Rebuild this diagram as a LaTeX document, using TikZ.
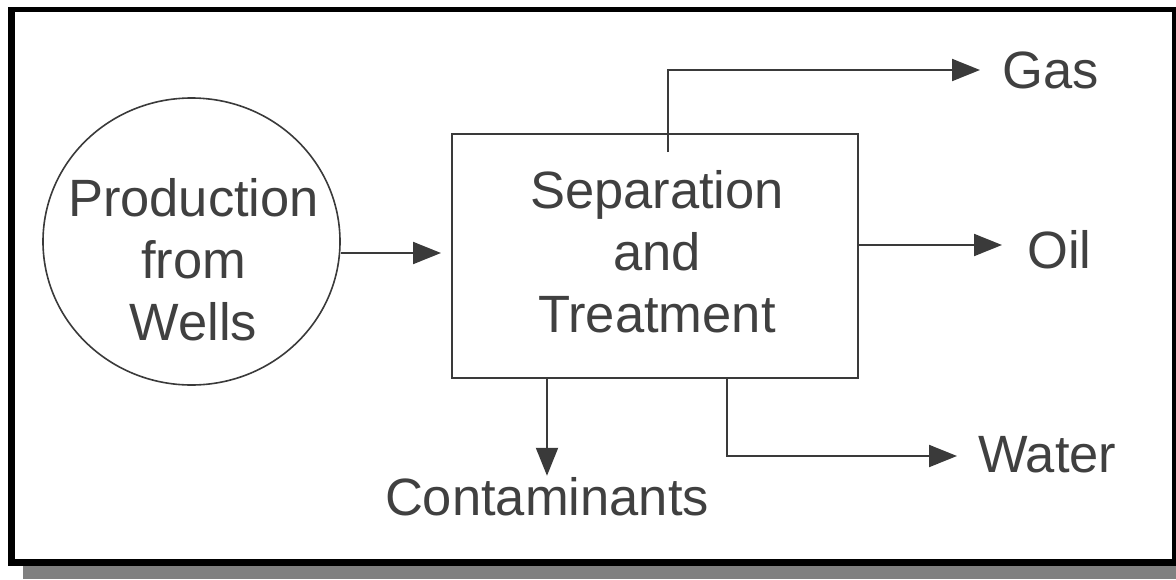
\documentclass[tikz,border=0pt]{standalone}
\usepackage{fontspec}
\setmainfont{Liberation Sans}
\usetikzlibrary{arrows.meta,shapes.geometric}
\definecolor{ink}{HTML}{3A3A3A}
\definecolor{txt}{HTML}{404040}
\definecolor{shadowgray}{HTML}{808080}
\begin{document}
\begin{tikzpicture}[x=1pt,y=-1pt,
  lbl/.style={inner sep=0pt,text=txt,font=\fontsize{52.5}{62}\selectfont},
  flow/.style={draw=ink,line width=2pt,-{Triangle[length=28pt,width=22pt]}},
  unitbox/.style={draw=ink,line width=2pt,minimum width=406pt,minimum height=244pt,inner sep=0pt},
  source/.style={draw=ink,line width=1.6pt,ellipse,minimum width=297pt,minimum height=287pt,inner sep=0pt}]
\useasboundingbox (0,0) rectangle (1176,579);
% frame and shadow
\fill[white] (0,0) rectangle (1176,579);
\fill[shadowgray] (23,566) rectangle (1176,579);
\fill[black] (8,7) rectangle (1176,566);
\fill[white] (15,12) rectangle (1172,559);
% nodes
\node[source] (wells) at (191.5,241.5) {};
\node[lbl,align=center] (wellstext) at (193.5,260) {Production\\from\\Wells};
\node[unitbox] (sep) at (655,256) {};
\node[lbl,align=center] (septext) at (657,252) {Separation\\and\\Treatment};
\node[lbl,anchor=base west] (gas) at (1002,88) {Gas};
\node[lbl,anchor=base west] (oil) at (1027,268) {Oil};
\node[lbl,anchor=base west] (water) at (978,472) {Water};
\node[lbl,anchor=base] (cont) at (547,515) {Contaminants};
\coordinate (gasstart) at (668,152);
% connectors
\draw[flow,shorten >=10pt] (wells.east |- 0,253) -- (sep.west |- 0,253);
\draw[flow,shorten >=22pt] (gasstart) |- (gas.west |- 0,70);
\draw[flow,shorten >=25pt] (sep.east |- 0,245) -- (oil.west |- 0,245);
\draw[flow,shorten >=21pt] (sep.south -| 727,0) |- (water.west |- 0,456);
\draw[flow,shorten >=1pt] (sep.south -| cont.north) -- (cont.north);
\end{tikzpicture}
\end{document}
